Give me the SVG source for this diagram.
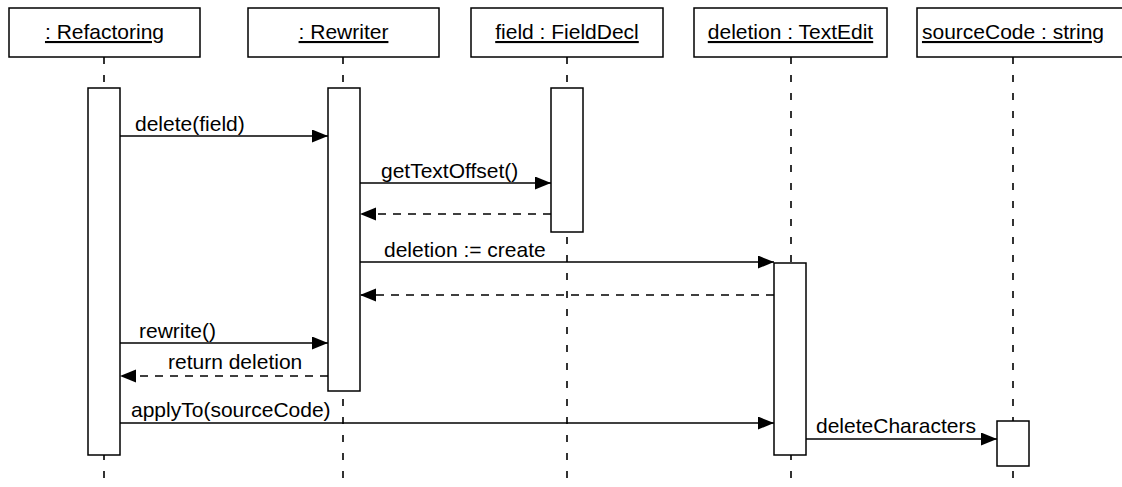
<svg xmlns="http://www.w3.org/2000/svg" width="1122" height="487" viewBox="0 0 1122 487">
<style>
text{font-family:"Liberation Sans",Arial,Helvetica,sans-serif;font-size:21px;fill:#000}
.box{fill:#fff;stroke:#000;stroke-width:1.5}
.life{stroke:#000;stroke-width:1.6;stroke-dasharray:7 11;fill:none}
.act{fill:#fff;stroke:#000;stroke-width:1.5}
.msg{stroke:#000;stroke-width:1.4;fill:none;marker-end:url(#ah)}
.ret{stroke:#000;stroke-width:1.4;fill:none;stroke-dasharray:8 7;marker-end:url(#ah)}
.lbl{text-anchor:middle;text-decoration:underline}
</style>
<defs>
<marker id="ah" markerUnits="userSpaceOnUse" markerWidth="17" markerHeight="14" refX="16" refY="6.5" orient="auto">
<path d="M0,0 L16,6.5 L0,13 z" fill="#000"/>
</marker>
</defs>
<g id="lifelines">
<line class="life" x1="104" y1="57" x2="104" y2="487"/>
<line class="life" x1="343" y1="57" x2="343" y2="487"/>
<line class="life" x1="567" y1="57" x2="567" y2="487"/>
<line class="life" x1="791" y1="57" x2="791" y2="487"/>
<line class="life" x1="1013" y1="57" x2="1013" y2="487"/>
</g>
<g id="connectors">
<line class="msg" x1="120" y1="136" x2="328" y2="136"/>
<text x="135" y="131">delete(field)</text>
<line class="msg" x1="360" y1="183" x2="551" y2="183"/>
<text x="381" y="178">getTextOffset()</text>
<line class="ret" x1="551" y1="214" x2="360" y2="214"/>
<line class="msg" x1="360" y1="262" x2="774" y2="262"/>
<text x="384" y="257">deletion := create</text>
<line class="ret" x1="774" y1="295" x2="360" y2="295"/>
<line class="msg" x1="120" y1="343" x2="328" y2="343"/>
<text x="139" y="338">rewrite()</text>
<line class="ret" x1="328" y1="376" x2="120" y2="376"/>
<text x="168" y="369">return deletion</text>
<line class="msg" x1="120" y1="423" x2="774" y2="423"/>
<text x="131" y="417">applyTo(sourceCode)</text>
<line class="msg" x1="806" y1="439" x2="997" y2="439"/>
<text x="816" y="433">deleteCharacters</text>
</g>
<g id="refactoring">
<rect class="box" x="9" y="8" width="191" height="49"/>
<text class="lbl" x="104.5" y="39">: Refactoring</text>
<rect class="act" x="88" y="88" width="32" height="367"/>
</g>
<g id="rewriter">
<rect class="box" x="248" y="8" width="191" height="49"/>
<text class="lbl" x="343.5" y="39">: Rewriter</text>
<rect class="act" x="328" y="88" width="32" height="303"/>
</g>
<g id="field">
<rect class="box" x="471" y="8" width="192" height="49"/>
<text class="lbl" x="567" y="39">field : FieldDecl</text>
<rect class="act" x="551" y="88" width="32" height="144"/>
</g>
<g id="deletion">
<rect class="box" x="694" y="8" width="193" height="49"/>
<text class="lbl" x="790.5" y="39">deletion : TextEdit</text>
<rect class="act" x="774" y="263" width="32" height="192"/>
</g>
<g id="sourceCode">
<rect class="box" x="917" y="8" width="210" height="49"/>
<text class="lbl" x="1013" y="39">sourceCode : string</text>
<rect class="act" x="997" y="421" width="32" height="45"/>
</g>
</svg>
